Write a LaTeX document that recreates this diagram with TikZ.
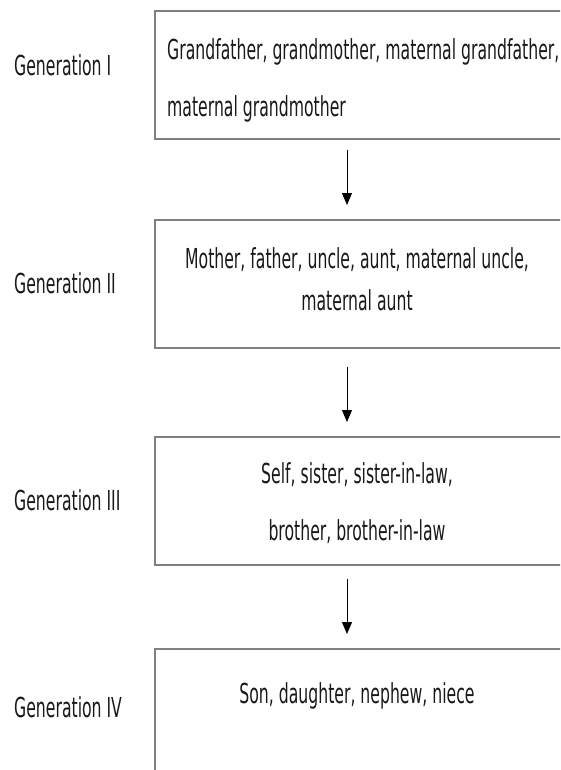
\documentclass[tikz,border=0pt]{standalone}
\usepackage{fontspec}
\setmainfont[FakeStretch=0.57]{DejaVu Sans}
\usetikzlibrary{arrows.meta}
\definecolor{boxgray}{RGB}{128,128,128}
\begin{document}
\begin{tikzpicture}[x=1pt,y=-1pt,
  genbox/.style={draw=boxgray,line width=1.6pt,minimum width=420pt,minimum height=128pt,inner sep=0pt,anchor=north west},
  txt/.style={font=\fontsize{27.5}{30}\selectfont,inner sep=0pt,anchor=base,text=black!90},
  lbl/.style={font=\fontsize{27.5}{30}\selectfont,inner sep=0pt,anchor=base west,text=black!90},
  arr/.style={-{Triangle[width=10pt,length=12pt]},line width=1pt,black}]
\clip (0,0) rectangle (560,770);
\fill[white] (0,0) rectangle (560,770);
% boxes
\node[genbox] (b1) at (154,10) {};
\node[genbox] (b2) at (154,219) {};
\node[genbox] (b3) at (154,436) {};
\node[genbox] (b4) at (154,648) {};
% labels
\node[lbl] (g1) at (14,76) {Generation I};
\node[lbl] (g2) at (14,293) {Generation II};
\node[lbl] (g3) at (14,510) {Generation III};
\node[lbl] (g4) at (14,717) {Generation IV};
% box texts
\node[lbl] (t1a) at (167,60) {Grandfather, grandmother, maternal grandfather,};
\node[lbl] (t1b) at (167,117) {maternal grandmother};
\node[txt] (t2a) at (357,268) {Mother, father, uncle, aunt, maternal uncle,};
\node[txt] (t2b) at (357,310) {maternal aunt};
\node[txt] (t3a) at (357,483) {Self, sister, sister-in-law,};
\node[txt] (t3b) at (357,540) {brother, brother-in-law};
\node[txt] (t4) at (357,703) {Son, daughter, nephew, niece};
% arrows
\draw[arr,shorten <=10pt,shorten >=14pt] ([xshift=193pt]b1.south west) -- ([xshift=193pt]b2.north west);
\draw[arr,shorten <=18pt,shorten >=14pt] ([xshift=193pt]b2.south west) -- ([xshift=193pt]b3.north west);
\draw[arr,shorten <=13pt,shorten >=14pt] ([xshift=193pt]b3.south west) -- ([xshift=193pt]b4.north west);
\end{tikzpicture}
\end{document}
